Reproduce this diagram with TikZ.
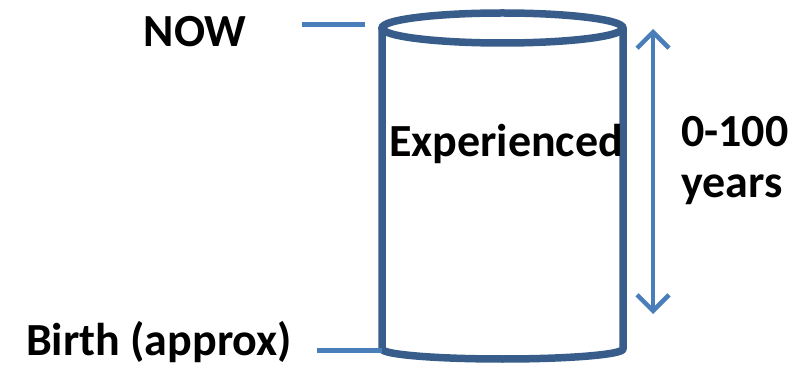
\documentclass[tikz,border=0pt]{standalone}
\usepackage{fontspec}
\setmainfont{Carlito}
\usetikzlibrary{arrows.meta}
\definecolor{cyl}{HTML}{385D8A}
\definecolor{lin}{HTML}{4A7EBB}
\tikzset{barbtip/.tip={Straight Barb[length=16pt,width=32pt,line width=4.5pt]}}
\begin{document}
\begin{tikzpicture}[x=1pt,y=-1pt,
  lbl/.style={font=\bfseries\fontsize{46}{53}\selectfont, inner sep=0pt, anchor=base},
  cylline/.style={draw=cyl, line width=7.5pt},
  conn/.style={draw=lin, line width=4.5pt}]
\useasboundingbox (0,0) rectangle (809,366);
% cylinder
\coordinate (tl) at (382,28);
\coordinate (tr) at (623,28);
\coordinate (bl) at (382,349);
\coordinate (br) at (623,349);
\path[cylline, line join=round] (tl) -- (bl) arc[start angle=180, end angle=360, x radius=120.5, y radius=-10] -- (tr);
\path[cylline] (502.5,28) ellipse[x radius=120.5, y radius=15];
% labels
\node[lbl] (now) at (195,47) {NOW};
\node[lbl] (birth) at (159,355) {Birth (approx)};
\node[lbl] (exp) at (506,157) {Experienced};
\node[lbl, anchor=base west] (yrs1) at (681,147) {0-100};
\node[lbl, anchor=base west] (yrs2) at (681,198) {years};
% connectors
\coordinate (nowend) at (302,24.5);
\coordinate (nowcyl) at (365,24.5);
\coordinate (birthend) at (317,350.5);
\coordinate (birthcyl) at (382,350.5);
\path[conn] (nowend) -- (nowcyl);
\path[conn] (birthend) -- (birthcyl);
\coordinate (atop) at (653,29);
\coordinate (abot) at (653,314);
\path[conn, barbtip-barbtip] (atop) -- (abot);
\end{tikzpicture}
\end{document}
